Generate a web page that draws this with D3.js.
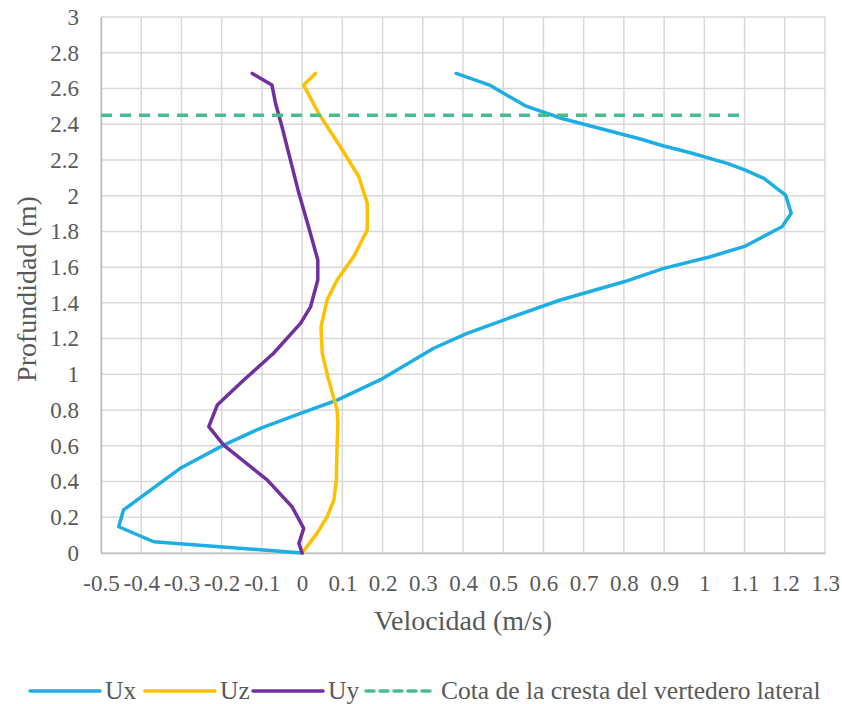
<!DOCTYPE html>
<html>
<head>
<meta charset="utf-8">
<script src="https://cdn.jsdelivr.net/npm/d3@7"></script>
<style>
  html, body { margin: 0; padding: 0; background: #ffffff; }
  svg { display: block; }
  text { font-family: "Liberation Serif", "DejaVu Serif", serif; fill: #595959; }
</style>
</head>
<body>
<svg id="chart" width="842" height="704"></svg>
<script>
// Velocity profiles (m/s) against depth (m)
const uxVel   = [0, -0.369, -0.456, -0.444, -0.303, -0.195, -0.104, -0.004, 0.087, 0.195, 0.327, 0.410, 0.501, 0.642, 0.800, 0.899, 1.015, 1.102, 1.193, 1.216, 1.202, 1.148, 1.102, 1.057, 0.965, 0.899, 0.841, 0.646, 0.555, 0.466, 0.383];
const uxDepth = [0, 0.063, 0.147, 0.241, 0.474, 0.604, 0.698, 0.782, 0.856, 0.970, 1.146, 1.229, 1.304, 1.416, 1.518, 1.593, 1.658, 1.718, 1.826, 1.901, 2.003, 2.097, 2.143, 2.181, 2.240, 2.278, 2.317, 2.432, 2.503, 2.619, 2.684];

const uzVel   = [0, 0.037, 0.062, 0.079, 0.085, 0.087, 0.089, 0.087, 0.066, 0.050, 0.047, 0.062, 0.087, 0.128, 0.162, 0.162, 0.141, 0.095, 0.041, 0.004, 0.033];
const uzDepth = [0, 0.110, 0.203, 0.297, 0.409, 0.600, 0.726, 0.800, 0.968, 1.118, 1.266, 1.416, 1.528, 1.658, 1.808, 1.957, 2.106, 2.274, 2.461, 2.619, 2.684];

const uyVel   = [0, -0.008, 0.004, -0.025, -0.087, -0.195, -0.232, -0.211, -0.145, -0.071, -0.004, 0.021, 0.039, 0.039, 0.016, -0.008, -0.029, -0.050, -0.066, -0.075, -0.124];
const uyDepth = [0, 0.054, 0.138, 0.259, 0.409, 0.604, 0.707, 0.828, 0.968, 1.118, 1.285, 1.378, 1.528, 1.640, 1.826, 2.013, 2.199, 2.386, 2.516, 2.619, 2.684];

// Weir crest elevation, drawn as a horizontal reference line
const crestVel   = [-0.5, 1.1];
const crestDepth = [2.45, 2.45];

const xTicks = [-0.5, -0.4, -0.3, -0.2, -0.1, 0, 0.1, 0.2, 0.3, 0.4, 0.5, 0.6, 0.7, 0.8, 0.9, 1, 1.1, 1.2, 1.3];
const yTicks = [0, 0.2, 0.4, 0.6, 0.8, 1, 1.2, 1.4, 1.6, 1.8, 2, 2.2, 2.4, 2.6, 2.8, 3];

const seriesNames  = ["Ux", "Uz", "Uy", "Cota de la cresta del vertedero lateral"];
const seriesColors = ["#1EAEE3", "#FFC000", "#7030A0", "#48BE8F"];

const xTitle = "Velocidad (m/s)";
const yTitle = "Profundidad (m)";

const svg = d3.select("#chart");
const plotLeft = 101, plotRight = 825, plotTop = 17, plotBottom = 553;

const x = d3.scaleLinear().domain([-0.5, 1.3]).range([plotLeft, plotRight]);
const y = d3.scaleLinear().domain([0, 3]).range([plotBottom, plotTop]);

// Gridlines
const grid = svg.append("g");
grid.selectAll("line.v").data(xTicks).join("line").attr("class", "v")
  .attr("x1", d => x(d)).attr("x2", d => x(d))
  .attr("y1", plotTop).attr("y2", plotBottom)
  .attr("stroke", "#d9d9d9").attr("stroke-width", 1.5);
grid.selectAll("line.h").data(yTicks).join("line").attr("class", "h")
  .attr("x1", plotLeft).attr("x2", plotRight)
  .attr("y1", d => y(d)).attr("y2", d => y(d))
  .attr("stroke", "#d9d9d9").attr("stroke-width", 1.5);

const fmt = d => String(+d.toFixed(1));

// Axes
const xAxis = svg.append("g")
  .attr("transform", `translate(0,${plotBottom})`)
  .call(d3.axisBottom(x).tickValues(xTicks).tickFormat(fmt).tickSize(0).tickPadding(22));
const yAxis = svg.append("g")
  .attr("transform", `translate(${plotLeft},0)`)
  .call(d3.axisLeft(y).tickValues(yTicks).tickFormat(fmt).tickSize(0).tickPadding(22));

[xAxis, yAxis].forEach(a => {
  a.select(".domain").attr("stroke", "#bfbfbf").attr("stroke-width", 1.5);
  a.selectAll("text")
    .style("font-family", '"Liberation Serif", serif')
    .attr("font-size", 23).attr("fill", "#595959");
});

// Axis titles
svg.append("text")
  .attr("x", (plotLeft + plotRight) / 2).attr("y", 630)
  .attr("text-anchor", "middle").attr("font-size", 28)
  .text(xTitle);
svg.append("text")
  .attr("transform", `translate(36,${(plotTop + plotBottom) / 2 + 4}) rotate(-90)`)
  .attr("text-anchor", "middle").attr("font-size", 28)
  .text(yTitle);

// Series
const line = d3.line().x(d => x(d[0])).y(d => y(d[1]));
const series = [
  d3.zip(uxVel, uxDepth),
  d3.zip(uzVel, uzDepth),
  d3.zip(uyVel, uyDepth),
  d3.zip(crestVel, crestDepth)
];
series.forEach((pts, i) => {
  const p = svg.append("path")
    .datum(pts)
    .attr("d", line)
    .attr("fill", "none")
    .attr("stroke", seriesColors[i])
    .attr("stroke-width", 3.5)
    .attr("stroke-linejoin", "round")
    .attr("stroke-linecap", "round");
  if (i === 3) p.attr("stroke-dasharray", "11,8").attr("stroke-linecap", "butt");
});

// Legend
const legendY = 691;
const legendX = [30, 145, 253, 366];
const lg = svg.append("g");
seriesNames.forEach((name, i) => {
  const g = lg.append("g").attr("transform", `translate(${legendX[i]},${legendY})`);
  g.append("line")
    .attr("x1", 0).attr("x2", 70).attr("y1", 0).attr("y2", 0)
    .attr("stroke", seriesColors[i]).attr("stroke-width", 3.5)
    .attr("stroke-linecap", "round")
    .attr("stroke-dasharray", i === 3 ? "8,6" : null);
  g.append("text")
    .attr("x", 75).attr("y", 8)
    .attr("font-size", 25.5)
    .text(name);
});
</script>
</body>
</html>
